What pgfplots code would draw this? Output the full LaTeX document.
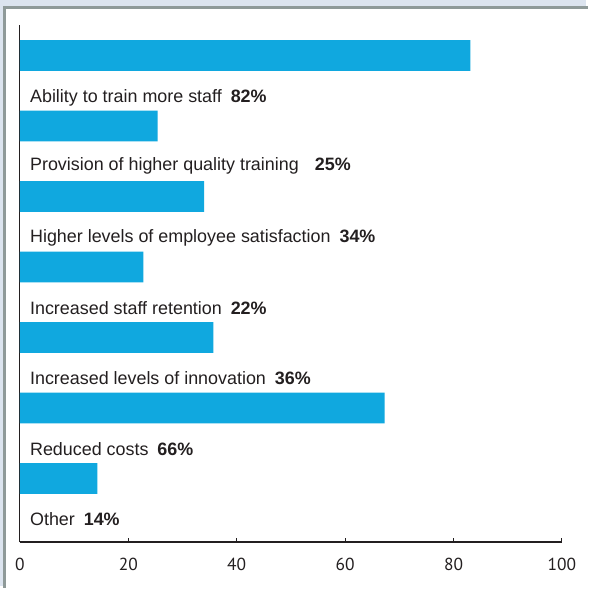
\documentclass[border=0pt]{standalone}
\usepackage{pgfplots}
\pgfplotsset{compat=1.18}
\usepackage{fontspec}
\setmainfont{Liberation Sans}
\newfontfamily\tickfont{PT Sans}
\definecolor{barblue}{HTML}{10A8DF}
\definecolor{framebg}{HTML}{DCE4EF}
\definecolor{framegray}{HTML}{8F9A99}
\definecolor{axisdark}{HTML}{231F20}
\begin{document}
\begin{tikzpicture}[x=1pt,y=1pt]
\fill[framebg] (0,0) rectangle (589,589);
\fill[white] (5,0) rectangle (589,581);
\draw[framegray, line width=2.5pt] (4.5,-2) -- (4.5,581.5) -- (591,581.5);
\useasboundingbox (0,0) rectangle (589,589);
\begin{axis}[
  at={(20pt,44pt)}, anchor=south west,
  scale only axis, width=545pt, height=520pt,
  xmin=0, xmax=100, ymin=0, ymax=7.334,
  axis lines*=left,
  axis line style={axisdark, line width=1.2pt},
  ytick=\empty,
  xtick={0,20,40,60,80,100},
  tick align=inside, major tick length=4pt,
  tick style={axisdark, line width=1pt},
  xticklabel style={font=\tickfont\fontsize{17.5}{18}\selectfont, text=axisdark, yshift=-13pt},
  /pgf/number format/assume math mode=true,
  xbar, bar width=31pt,
  clip=false,
]
\addplot[fill=barblue, draw=none] coordinates {
 (83.1,6.9) (25.4,5.9) (34.0,4.9) (22.8,3.9) (35.7,2.9) (67.3,1.9) (14.3,0.9)
};
\begin{scope}[every node/.style={anchor=west, inner sep=0pt, text=axisdark, font=\fontsize{18}{18}\selectfont}]
\node at (axis cs:1.85,6.30) {Ability to train more staff\hspace{0.5em}\textbf{82\%}};
\node at (axis cs:1.85,5.33) {Provision of higher quality training\hspace{0.9em}\textbf{25\%}};
\node at (axis cs:1.85,4.31) {Higher levels of employee satisfaction\hspace{0.5em}\textbf{34\%}};
\node at (axis cs:1.85,3.32) {Increased staff retention\hspace{0.5em}\textbf{22\%}};
\node at (axis cs:1.85,2.32) {Increased levels of innovation\hspace{0.5em}\textbf{36\%}};
\node at (axis cs:1.85,1.32) {Reduced costs\hspace{0.5em}\textbf{66\%}};
\node at (axis cs:1.85,0.32) {Other\hspace{0.5em}\textbf{14\%}};
\end{scope}
\end{axis}
\end{tikzpicture}
\end{document}
